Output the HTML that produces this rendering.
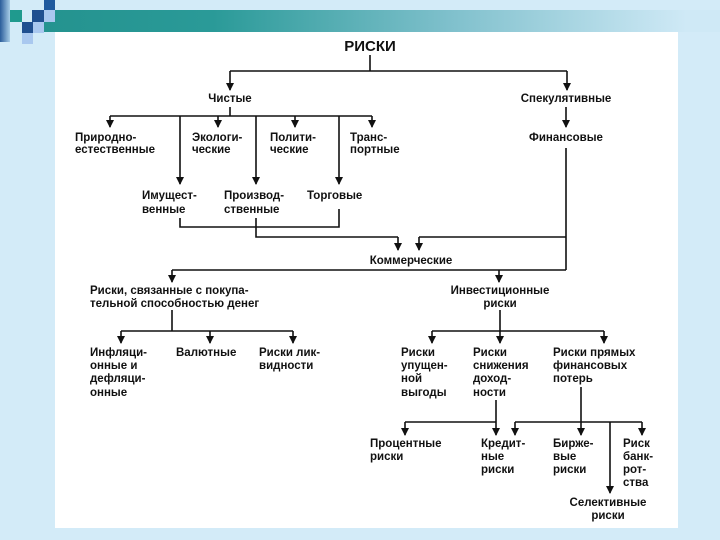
<!DOCTYPE html>
<html><head><meta charset="utf-8"><style>
body{margin:0;width:720px;height:540px;background:#d3ebf8;position:relative;overflow:hidden}
.sq{position:absolute}
svg{position:absolute;left:0;top:0}
text{font-family:"Liberation Sans",sans-serif;font-weight:bold;font-size:11.5px;fill:#111}
</style></head><body>
<div class="sq" style="left:0;top:0;width:10px;height:42px;background:linear-gradient(90deg,#2a5c9a,#a8cde8)"></div>
<div class="sq" style="left:44px;top:10px;width:676px;height:22px;background:linear-gradient(90deg,#24938f 0%,#2a9a98 25%,#7fc0cc 60%,#cfe9f6 95%)"></div>
<div class="sq" style="left:10px;top:10px;width:12px;height:12px;background:#1f9a8e"></div>
<div class="sq" style="left:32px;top:10px;width:12px;height:12px;background:#1f4f90"></div>
<div class="sq" style="left:44px;top:0;width:11px;height:10px;background:#1f5a9e"></div>
<div class="sq" style="left:44px;top:10px;width:11px;height:12px;background:#a9c8ef"></div>
<div class="sq" style="left:22px;top:22px;width:11px;height:11px;background:#1f4f90"></div>
<div class="sq" style="left:33px;top:22px;width:11px;height:11px;background:#a9c8ef"></div>
<div class="sq" style="left:22px;top:33px;width:11px;height:11px;background:#a9c8ef"></div>
<div class="sq" style="left:55px;top:32px;width:623px;height:496px;background:#fff"></div>
<svg width="720" height="540" viewBox="0 0 720 540">
<defs><marker id="a" markerWidth="9" markerHeight="9" refX="7" refY="4" orient="auto" markerUnits="userSpaceOnUse"><path d="M0,0 L8,4 L0,8 Z" fill="#111"/></marker></defs>
<g stroke="#111" stroke-width="1.6" fill="none">
<path d="M370,55V71M230,71H567"/>
<path d="M230,71V90" marker-end="url(#a)"/><path d="M567,71V90" marker-end="url(#a)"/>
<path d="M230,107V116M110,116H372"/>
<path d="M110,116V127" marker-end="url(#a)"/><path d="M218,116V127" marker-end="url(#a)"/><path d="M295,116V127" marker-end="url(#a)"/><path d="M372,116V127" marker-end="url(#a)"/>
<path d="M180,116V184" marker-end="url(#a)"/><path d="M256,116V184" marker-end="url(#a)"/><path d="M339,116V184" marker-end="url(#a)"/>
<path d="M566,107V127" marker-end="url(#a)"/>
<path d="M180,218V227H339V209"/>
<path d="M256,218V237H398"/><path d="M398,237V250" marker-end="url(#a)"/>
<path d="M566,148V270M566,237H419"/><path d="M419,237V250" marker-end="url(#a)"/>
<path d="M172,270H566"/>
<path d="M172,270V282" marker-end="url(#a)"/><path d="M499,270V282" marker-end="url(#a)"/>
<path d="M172,310V331M121,331H293"/>
<path d="M121,331V343" marker-end="url(#a)"/><path d="M210,331V343" marker-end="url(#a)"/><path d="M293,331V343" marker-end="url(#a)"/>
<path d="M500,310V331M432,331H604"/>
<path d="M432,331V343" marker-end="url(#a)"/><path d="M500,331V343" marker-end="url(#a)"/><path d="M604,331V343" marker-end="url(#a)"/>
<path d="M496,400V435" marker-end="url(#a)"/><path d="M405,422H496"/><path d="M405,422V435" marker-end="url(#a)"/>
<path d="M581,387V435" marker-end="url(#a)"/><path d="M515,422H642"/>
<path d="M515,422V435" marker-end="url(#a)"/><path d="M642,422V435" marker-end="url(#a)"/>
<path d="M610,422V493" marker-end="url(#a)"/>
</g>
<text x="370" y="51" text-anchor="middle" style="font-size:15px">РИСКИ</text>
<text x="230" y="102" text-anchor="middle">Чистые</text>
<text x="566" y="102" text-anchor="middle">Спекулятивные</text>
<text x="75" y="141">Природно-</text><text x="75" y="153">естественные</text>
<text x="192" y="141">Экологи-</text><text x="192" y="153">ческие</text>
<text x="270" y="141">Полити-</text><text x="270" y="153">ческие</text>
<text x="350" y="141">Транс-</text><text x="350" y="153">портные</text>
<text x="566" y="141" text-anchor="middle">Финансовые</text>
<text x="142" y="199">Имущест-</text><text x="142" y="213">венные</text>
<text x="224" y="199">Производ-</text><text x="224" y="213">ственные</text>
<text x="307" y="199">Торговые</text>
<text x="411" y="264" text-anchor="middle">Коммерческие</text>
<text x="90" y="294">Риски, связанные с покупа-</text><text x="90" y="307">тельной способностью денег</text>
<text x="500" y="294" text-anchor="middle">Инвестиционные</text><text x="500" y="307" text-anchor="middle">риски</text>
<text x="90" y="356">Инфляци-</text><text x="90" y="369">онные и</text><text x="90" y="382">дефляци-</text><text x="90" y="396">онные</text>
<text x="176" y="356">Валютные</text>
<text x="259" y="356">Риски лик-</text><text x="259" y="369">видности</text>
<text x="401" y="356">Риски</text><text x="401" y="369">упущен-</text><text x="401" y="382">ной</text><text x="401" y="396">выгоды</text>
<text x="473" y="356">Риски</text><text x="473" y="369">снижения</text><text x="473" y="382">доход-</text><text x="473" y="396">ности</text>
<text x="553" y="356">Риски прямых</text><text x="553" y="369">финансовых</text><text x="553" y="382">потерь</text>
<text x="370" y="447">Процентные</text><text x="370" y="460">риски</text>
<text x="481" y="447">Кредит-</text><text x="481" y="460">ные</text><text x="481" y="473">риски</text>
<text x="553" y="447">Бирже-</text><text x="553" y="460">вые</text><text x="553" y="473">риски</text>
<text x="623" y="447">Риск</text><text x="623" y="460">банк-</text><text x="623" y="473">рот-</text><text x="623" y="486">ства</text>
<text x="608" y="506" text-anchor="middle">Селективные</text><text x="608" y="519" text-anchor="middle">риски</text>
</svg>
</body></html>
